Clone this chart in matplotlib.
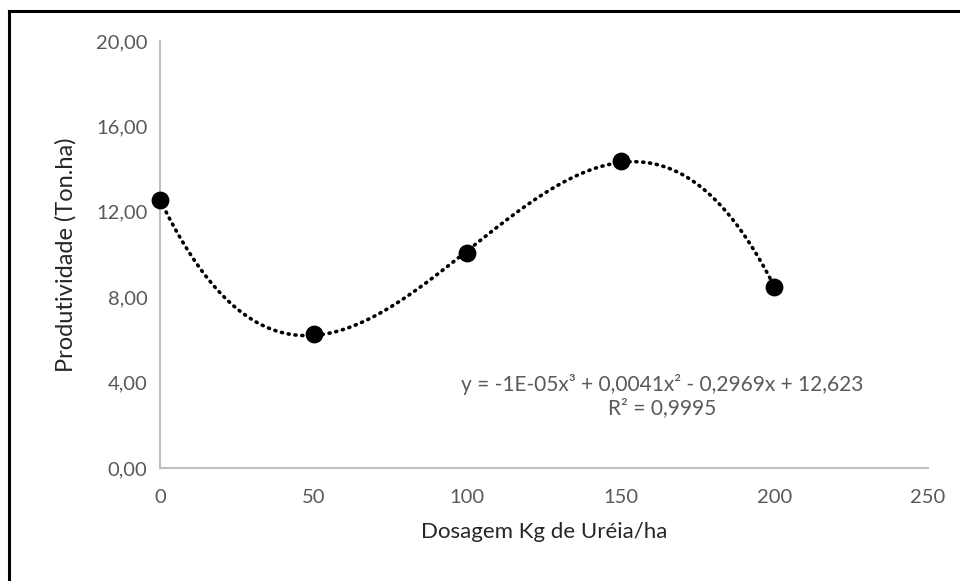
import matplotlib
matplotlib.use("Agg")
import matplotlib.pyplot as plt
import numpy as np
from matplotlib.lines import Line2D

# data
dose = [0, 50, 100, 150, 200]
yield_ton = [12.55, 6.28, 10.07, 14.38, 8.48]
x_ticks = [0, 50, 100, 150, 200, 250]
y_ticks = [0, 4, 8, 12, 16, 20]
y_tick_labels = ["0,00", "4,00", "8,00", "12,00", "16,00", "20,00"]
eq_text = "y = -1E-05x³ + 0,0041x² - 0,2969x + 12,623\nR² = 0,9995"

GREY = "#595959"
plt.rcParams["font.family"] = ["Lato", "DejaVu Sans"]

fig = plt.figure(figsize=(9.6, 5.81), dpi=100)
ax = fig.add_axes([160 / 960, 1 - 468 / 581, 768 / 960, 427 / 581])

# cubic trendline fitted to the points
coef = np.polyfit(dose, yield_ton, 3)
xs = np.linspace(min(dose), max(dose), 400)
ax.plot(xs, np.polyval(coef, xs), color="black", lw=2.6, ls=(0, (0.3, 1.6)),
        dash_capstyle="round", zorder=2)
ax.scatter(dose, yield_ton, s=140, color="black", zorder=3, clip_on=False)

ax.set_xlim(0, 250)
ax.set_ylim(0, 20)
ax.set_xticks(x_ticks)
ax.set_yticks(y_ticks)
ax.set_yticklabels(y_tick_labels)
ax.tick_params(length=0, labelsize=14.5, colors=GREY, pad=9)
ax.tick_params(axis="x", pad=15)
for s in ("top", "right"):
    ax.spines[s].set_visible(False)
for s in ("left", "bottom"):
    ax.spines[s].set_color("#BFBFBF")
    ax.spines[s].set_linewidth(1.5)

ax.set_xlabel("Dosagem Kg de Uréia/ha", fontsize=16, color="#262626", labelpad=12)
ax.set_ylabel("Produtividade (Ton.ha)", fontsize=17, color="#262626", labelpad=14)

ax.text(0.69, 0.318, eq_text, transform=fig.transFigure, ha="center", va="center",
        fontsize=15, color=GREY, linespacing=1.2)

# partial frame (top and left edges only)
fig.add_artist(Line2D([9 / 960, 9 / 960], [0, 1 - 11 / 581], transform=fig.transFigure,
                      color="black", lw=2.2))
fig.add_artist(Line2D([9 / 960, 1], [1 - 11 / 581, 1 - 11 / 581], transform=fig.transFigure,
                      color="black", lw=2.2))

fig.savefig("out.png", dpi=100)
